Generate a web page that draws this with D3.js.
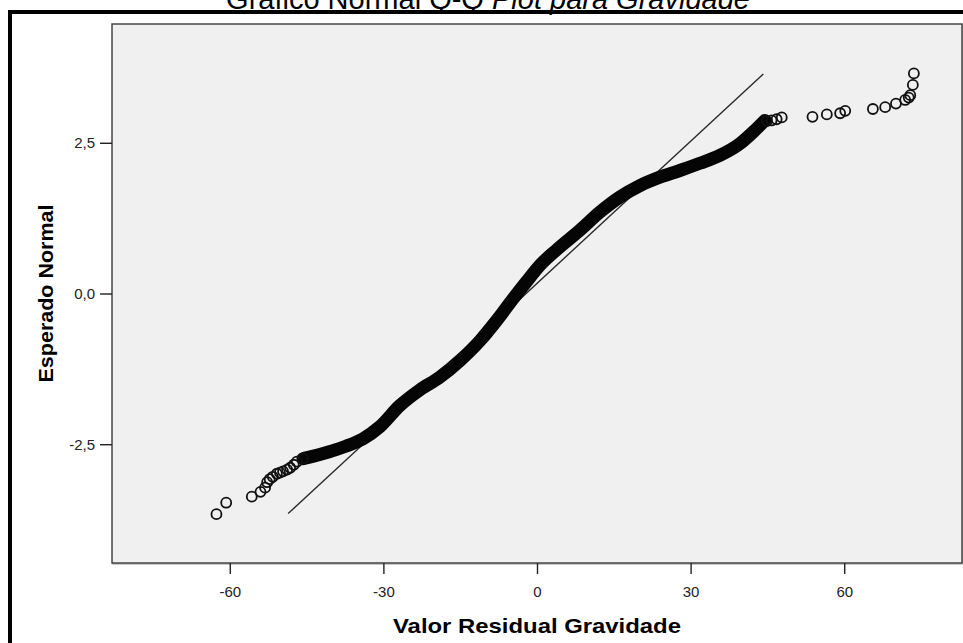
<!DOCTYPE html>
<html>
<head>
<meta charset="utf-8">
<script src="https://cdn.jsdelivr.net/npm/d3@7"></script>
<style>
  html, body { margin: 0; padding: 0; background: #ffffff; }
  svg { display: block; }
  text { font-family: "Liberation Sans", Arial, sans-serif; }
</style>
</head>
<body>
<svg id="chart" width="963" height="643"></svg>
<script>
// Normal Q-Q plot of the regression residuals for "Gravidade"

// Axis ticks
const xTicks = [-60, -30, 0, 30, 60];
const xTickLabels = ["-60", "-30", "0", "30", "60"];
const yTicks = [-2.5, 0, 2.5];
const yTickLabels = ["-2,5", "0,0", "2,5"];

// Dense middle of the point cloud (observed residual vs expected normal)
const bandResidual = [-45.7, -40.4, -37.2, -34.0, -30.7, -26.8, -22.9, -19.0, -15.0, -11.1, -7.9, -4.6, -2.0, 0.6, 3.9, 8.4, 12.3, 16.2, 20.1, 24.0, 27.9, 31.8, 35.7, 39.7, 42.6, 44.5];
const bandExpected = [-2.74, -2.62, -2.53, -2.41, -2.21, -1.86, -1.60, -1.39, -1.11, -0.78, -0.45, -0.08, 0.20, 0.47, 0.73, 1.05, 1.35, 1.60, 1.79, 1.93, 2.04, 2.16, 2.29, 2.49, 2.71, 2.87];

// Sparse points in the lower tail
const lowResidual = [-62.6, -60.7, -55.7, -54.0, -53.1, -52.7, -52.2, -51.6, -50.8, -50.2, -49.6, -48.8, -48.2, -47.5, -46.9, -45.7];
const lowExpected = [-3.66, -3.47, -3.37, -3.29, -3.22, -3.13, -3.08, -3.04, -2.99, -2.97, -2.95, -2.92, -2.89, -2.84, -2.79, -2.74];

// Sparse points in the upper tail
const highResidual = [44.9, 45.8, 46.8, 47.8, 53.8, 56.6, 59.2, 60.2, 65.6, 68.0, 70.1, 71.9, 72.6, 72.9, 73.4, 73.6];
const highExpected = [2.86, 2.87, 2.89, 2.92, 2.93, 2.97, 2.99, 3.03, 3.06, 3.09, 3.15, 3.21, 3.25, 3.29, 3.46, 3.65];

// Reference line of the normal distribution
const refResidual = [-48.6, 44.2];
const refExpected = [-3.65, 3.64];

const svg = d3.select("#chart");

// Outer frame
svg.append("rect")
  .attr("x", 10).attr("y", 12)
  .attr("width", 1000).attr("height", 1000)
  .attr("fill", "#ffffff")
  .attr("stroke", "#000000").attr("stroke-width", 4);

// Title (its upper part runs past the top edge)
const title = svg.append("text")
  .attr("x", 488).attr("y", 9)
  .attr("text-anchor", "middle")
  .attr("font-size", 29)
  .attr("fill", "#000");
title.append("tspan").text("Gráfico Normal Q-Q ");
title.append("tspan").attr("font-style", "italic").text("Plot para Gravidade");

const plot = { left: 112, top: 24, right: 962, bottom: 563 };

const x = d3.scaleLinear().domain([-83, 83]).range([plot.left, plot.right]);
const y = d3.scaleLinear().domain([-4.47, 4.47]).range([plot.bottom, plot.top]);

// Plot panel
svg.append("rect")
  .attr("x", plot.left + 1).attr("y", plot.top + 1)
  .attr("width", plot.right - plot.left).attr("height", plot.bottom - plot.top)
  .attr("fill", "none").attr("stroke", "#b8b8b8").attr("stroke-width", 1.5);
svg.append("rect")
  .attr("x", plot.left).attr("y", plot.top)
  .attr("width", plot.right - plot.left).attr("height", plot.bottom - plot.top)
  .attr("fill", "#f0f0f0").attr("stroke", "#3a3a3a").attr("stroke-width", 1.4);

// Axes
const xAxis = d3.axisBottom(x)
  .tickValues(xTicks)
  .tickFormat((d, i) => xTickLabels[i])
  .tickSize(11).tickPadding(12);
const gx = svg.append("g").attr("transform", `translate(0,${plot.bottom})`).call(xAxis);
gx.select(".domain").remove();
gx.selectAll(".tick line").attr("stroke", "#222").attr("stroke-width", 1.4);
gx.selectAll(".tick text").attr("font-size", 15).attr("fill", "#222")
  .attr("font-family", "'Liberation Sans', Arial, sans-serif");

const yAxis = d3.axisLeft(y)
  .tickValues(yTicks)
  .tickFormat((d, i) => yTickLabels[i])
  .tickSize(12).tickPadding(5);
const gy = svg.append("g").attr("transform", `translate(${plot.left},0)`).call(yAxis);
gy.select(".domain").remove();
gy.selectAll(".tick line").attr("stroke", "#222").attr("stroke-width", 1.4);
gy.selectAll(".tick text").attr("font-size", 15).attr("fill", "#222")
  .attr("font-family", "'Liberation Sans', Arial, sans-serif");

// Axis titles
svg.append("text")
  .attr("x", 537).attr("y", 633)
  .attr("text-anchor", "middle")
  .attr("font-size", 21).attr("font-weight", "bold")
  .attr("textLength", 288).attr("lengthAdjust", "spacingAndGlyphs")
  .text("Valor Residual Gravidade");

svg.append("text")
  .attr("transform", `translate(53,${y(0)}) rotate(-90)`)
  .attr("text-anchor", "middle")
  .attr("font-size", 21).attr("font-weight", "bold")
  .attr("textLength", 178).attr("lengthAdjust", "spacingAndGlyphs")
  .text("Esperado Normal");

const g = svg.append("g");

// Reference line
g.append("path")
  .datum(d3.zip(refResidual, refExpected))
  .attr("d", d3.line().x(d => x(d[0])).y(d => y(d[1])))
  .attr("fill", "none").attr("stroke", "#2a2a2a").attr("stroke-width", 1.4);

// Dense core of the observations
g.append("path")
  .datum(d3.zip(bandResidual, bandExpected))
  .attr("d", d3.line().curve(d3.curveMonotoneX).x(d => x(d[0])).y(d => y(d[1])))
  .attr("fill", "none").attr("stroke", "#050505")
  .attr("stroke-width", 13).attr("stroke-linecap", "round").attr("stroke-linejoin", "round");

// Individual observations in the tails
const tails = d3.zip(lowResidual, lowExpected).concat(d3.zip(highResidual, highExpected));
g.selectAll("circle.obs")
  .data(tails)
  .join("circle")
  .attr("class", "obs")
  .attr("cx", d => x(d[0]))
  .attr("cy", d => y(d[1]))
  .attr("r", 5)
  .attr("fill", "none")
  .attr("stroke", "#111")
  .attr("stroke-width", 1.8);
</script>
</body>
</html>
